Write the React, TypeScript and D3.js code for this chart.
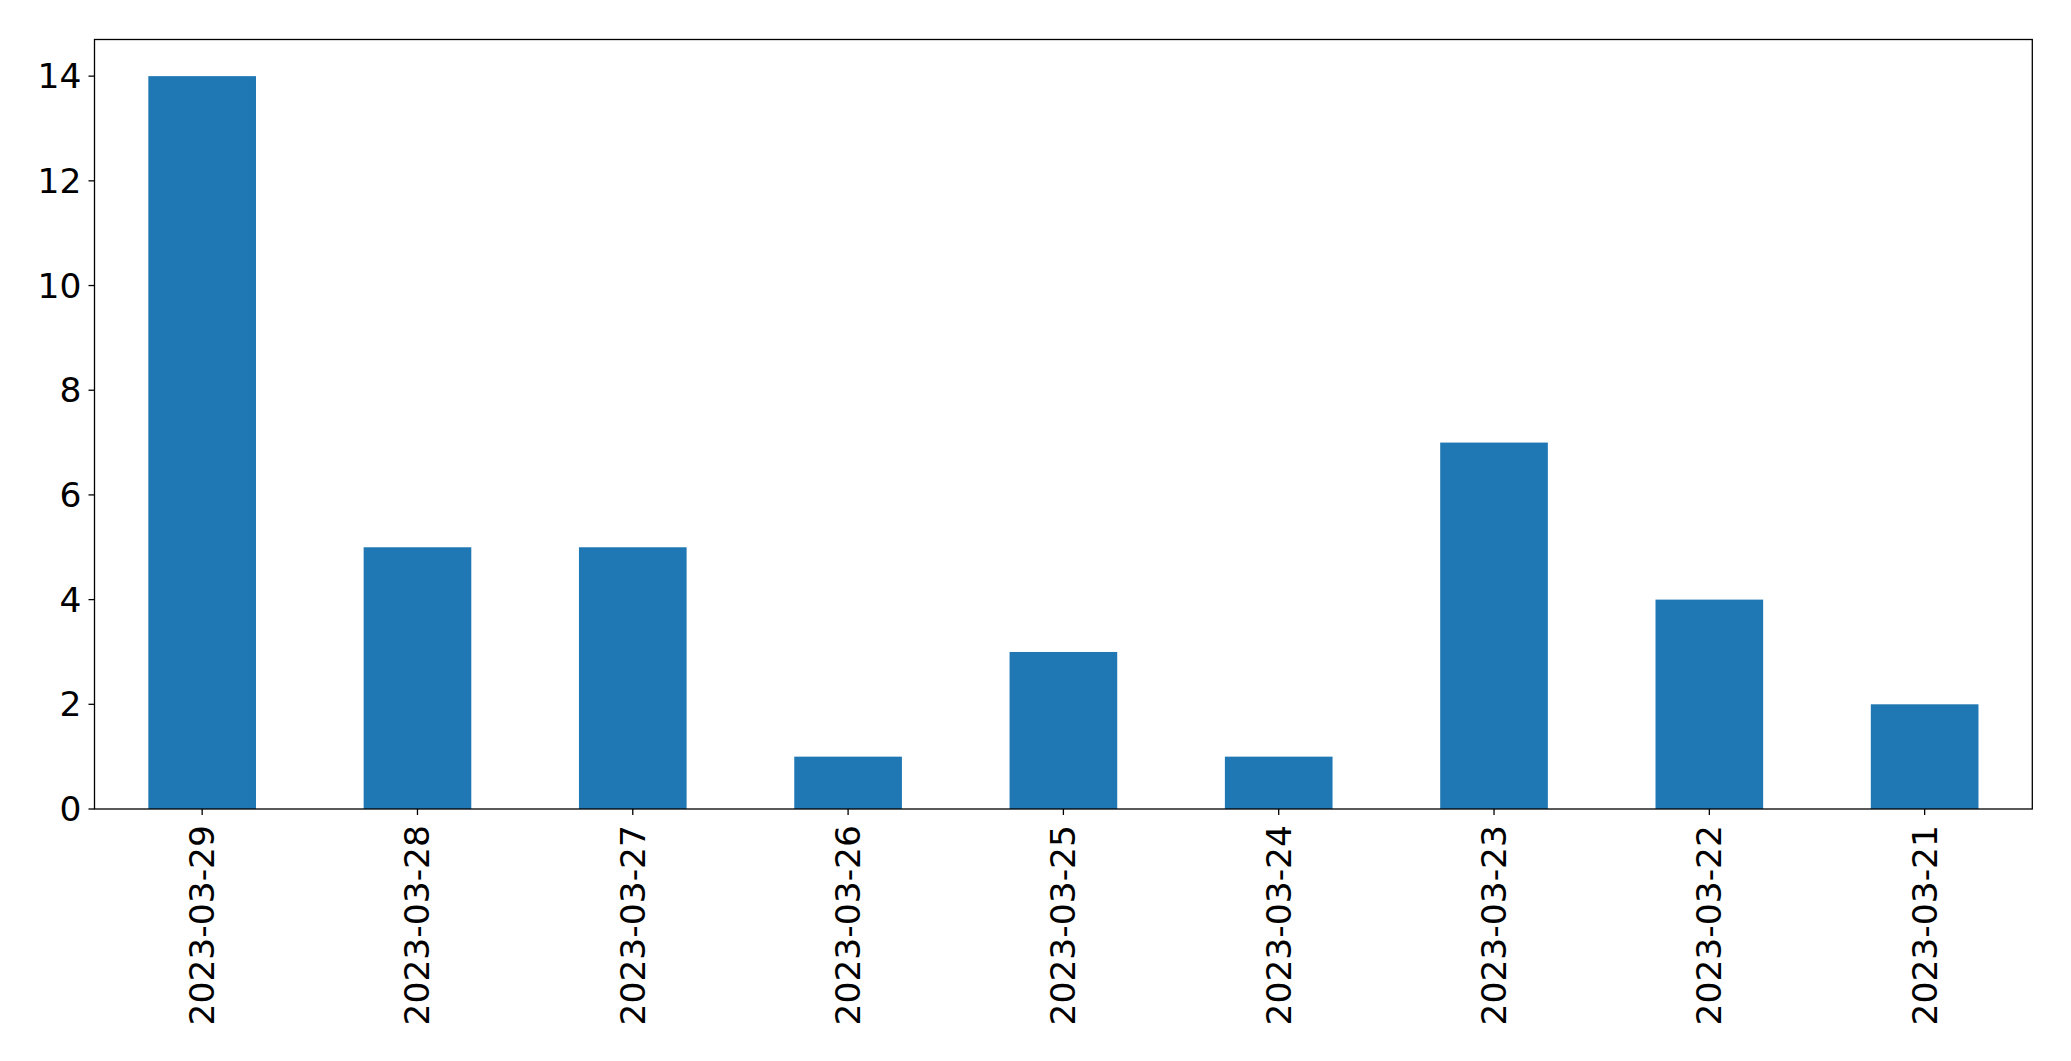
import React from 'react';
import * as d3 from 'd3';

const dates = ["2023-03-29", "2023-03-28", "2023-03-27", "2023-03-26", "2023-03-25", "2023-03-24", "2023-03-23", "2023-03-22", "2023-03-21"];
const counts = [14, 5, 5, 1, 3, 1, 7, 4, 2];
const yTicks = [0, 2, 4, 6, 8, 10, 12, 14];

const W = 2071;
const H = 1061;
const margin = { top: 39.5, right: 2071 - 2032.3, bottom: 1061 - 809, left: 94.5 };
const fontSize = 34.5;

export default function App() {
    const x = d3.scaleBand<string>()
        .domain(dates)
        .range([margin.left, W - margin.right])
        .paddingInner(0.5)
        .paddingOuter(0.25);

    const y = d3.scaleLinear()
        .domain([0, 14.7])
        .range([H - margin.bottom, margin.top]);

    const bottom = H - margin.bottom;

    return (
        <svg width={W} height={H} style={{ position: 'absolute', left: 0, top: 0, background: 'white' }}
            fontFamily="DejaVu Sans" fontSize={fontSize}>
            {/* bars */}
            {dates.map((d, i) => (
                <rect key={d} x={x(d)} y={y(counts[i])} width={x.bandwidth()}
                    height={bottom - y(counts[i])} fill="#1f77b4" />
            ))}

            {/* frame */}
            <rect x={margin.left} y={margin.top} width={W - margin.right - margin.left}
                height={bottom - margin.top} fill="none" stroke="black" strokeWidth={1.3} />

            {/* y ticks */}
            {yTicks.map(t => (
                <g key={t}>
                    <line x1={margin.left - 6} x2={margin.left} y1={y(t)} y2={y(t)} stroke="black" strokeWidth={1.3} />
                    <text x={margin.left - 13} y={y(t)} textAnchor="end" dominantBaseline="central">{t}</text>
                </g>
            ))}

            {/* x ticks */}
            {dates.map(d => {
                const cx = x(d)! + x.bandwidth() / 2;
                return (
                    <g key={d}>
                        <line x1={cx} x2={cx} y1={bottom} y2={bottom + 6} stroke="black" strokeWidth={1.3} />
                        <text transform={`translate(${cx}, ${bottom + 16}) rotate(-90)`}
                            textAnchor="end" dominantBaseline="central">{d}</text>
                    </g>
                );
            })}
        </svg>
    );
}
